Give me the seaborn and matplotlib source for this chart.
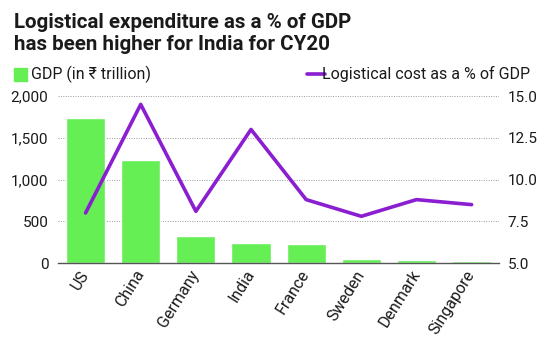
import matplotlib
matplotlib.use("Agg")
import matplotlib.pyplot as plt
import seaborn as sns
import pandas as pd
import numpy as np
from matplotlib.patches import Rectangle
from matplotlib.lines import Line2D

countries = ["US", "China", "Germany", "India", "France", "Sweden", "Denmark", "Singapore"]
gdp = [1740, 1230, 320, 235, 225, 48, 35, 30]
log_cost = [8.0, 14.5, 8.1, 13.0, 8.8, 7.8, 8.8, 8.5]
left_ticks = [0, 500, 1000, 1500, 2000]
left_labels = ["0", "500", "1,000", "1,500", "2,000"]
right_ticks = [5.0, 7.5, 10.0, 12.5, 15.0]
right_labels = ["5.0", "7.5", "10.0", "12.5", "15.0"]

sns.set_theme(style="white")
plt.rcParams['font.family'] = ['Roboto', 'DejaVu Sans']

GREEN = "#66EE55"
PURPLE = "#8A1ED0"
TXT = "#1a1a1a"

df = pd.DataFrame({"country": countries, "gdp": gdp, "cost": log_cost})

fig = plt.figure(figsize=(5.42, 3.48), dpi=100)
ax = fig.add_axes([0.107, 0.244, 0.814, 0.48])
sns.barplot(data=df, x="country", y="gdp", color=GREEN, saturation=1, width=0.71, ax=ax)
ax.set_ylim(0, 2000)
ax.set_xlim(-0.5, 7.5)
ax.set_yticks(left_ticks)
ax.set_yticklabels(left_labels)
ax.set_xlabel("")
ax.set_ylabel("")
ax.yaxis.grid(True, linestyle=(0, (1, 1.5)), color="#9a9a9a", linewidth=0.7)
ax.set_axisbelow(True)
for s in ["top", "right", "left"]:
    ax.spines[s].set_visible(False)
ax.spines["bottom"].set_color("#555555")
ax.spines["bottom"].set_linewidth(1.0)
ax.tick_params(axis="y", length=0, labelsize=11, labelcolor=TXT, pad=7)
ax.tick_params(axis="x", length=0, labelsize=11.5, labelcolor=TXT, pad=6)
for lab in ax.get_xticklabels():
    lab.set_rotation(58)
    lab.set_ha("right")
    lab.set_va("center")
    lab.set_rotation_mode("anchor")

ax2 = ax.twinx()
sns.lineplot(x=np.arange(len(countries)), y=df["cost"], color=PURPLE, linewidth=2.6, ax=ax2)
ax2.set_ylim(5, 15)
ax2.set_yticks(right_ticks)
ax2.set_yticklabels(right_labels)
ax2.set_ylabel("")
for s in ["top", "right", "left", "bottom"]:
    ax2.spines[s].set_visible(False)
ax2.tick_params(axis="y", length=0, labelsize=11, labelcolor=TXT, pad=6)

fig.text(0.026, 0.962, "Logistical expenditure as a % of GDP\nhas been higher for India for CY20",
         fontsize=14.8, fontweight="bold", family=["Roboto", "DejaVu Sans"],
         color=TXT, va="top", ha="left", linespacing=1.18)

fig.patches.append(Rectangle((0.026, 0.768), 0.024, 0.038, transform=fig.transFigure,
                             color=GREEN, figure=fig))
fig.text(0.058, 0.787, "GDP (in ₹ trillion)", fontsize=11.5, color=TXT, va="center",
         family=["Roboto", "DejaVu Sans"])
fig.lines.append(Line2D([0.566, 0.6], [0.787, 0.787], transform=fig.transFigure,
                        color=PURPLE, linewidth=2.6, figure=fig))
fig.text(0.978, 0.787, "Logistical cost as a % of GDP", fontsize=11.5, color=TXT,
         va="center", ha="right")

fig.savefig("out.png", dpi=100, facecolor="white")
